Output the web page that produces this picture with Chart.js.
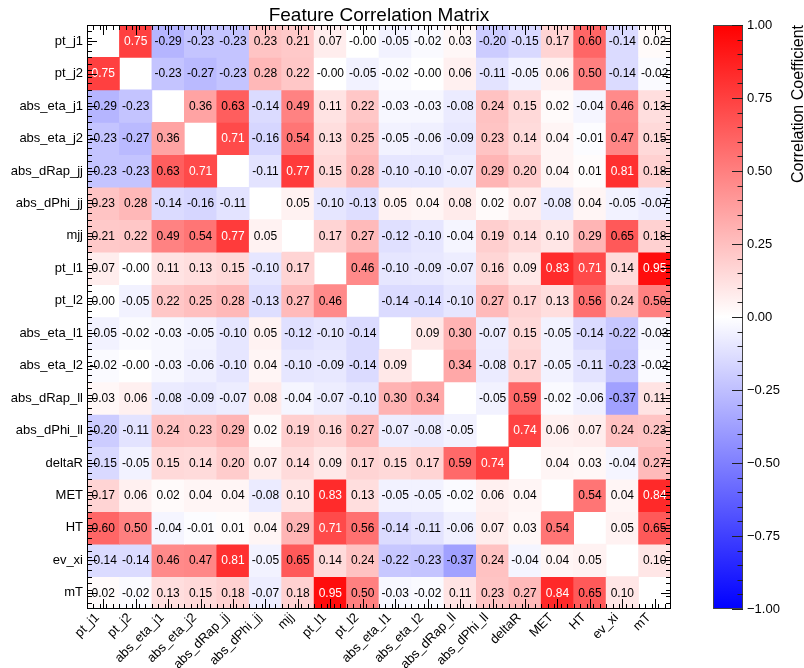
<!DOCTYPE html>
<html>
<head>
<meta charset="utf-8">
<script src="https://cdn.jsdelivr.net/npm/chart.js@4.4.1/dist/chart.umd.min.js"></script>
<style>
  html, body { margin: 0; padding: 0; background: #ffffff; }
  canvas { display: block; }
</style>
</head>
<body>
<canvas id="corr" width="804" height="668"></canvas>
<script>
// Feature names, in matrix order (rows top to bottom, columns left to right)
const features = [
  'pt_j1', 'pt_j2', 'abs_eta_j1', 'abs_eta_j2', 'abs_dRap_jj', 'abs_dPhi_jj',
  'mjj', 'pt_l1', 'pt_l2', 'abs_eta_l1', 'abs_eta_l2', 'abs_dRap_ll',
  'abs_dPhi_ll', 'deltaR', 'MET', 'HT', 'ev_xi', 'mT'
];

// Correlation coefficients, one row per feature (diagonal left empty)
const rowPtJ1      = [null, 0.75, -0.29, -0.23, -0.23, 0.23, 0.21, 0.07, -0.00, -0.05, -0.02, 0.03, -0.20, -0.15, 0.17, 0.60, -0.14, 0.02];
const rowPtJ2      = [0.75, null, -0.23, -0.27, -0.23, 0.28, 0.22, -0.00, -0.05, -0.02, -0.00, 0.06, -0.11, -0.05, 0.06, 0.50, -0.14, -0.02];
const rowAbsEtaJ1  = [-0.29, -0.23, null, 0.36, 0.63, -0.14, 0.49, 0.11, 0.22, -0.03, -0.03, -0.08, 0.24, 0.15, 0.02, -0.04, 0.46, 0.13];
const rowAbsEtaJ2  = [-0.23, -0.27, 0.36, null, 0.71, -0.16, 0.54, 0.13, 0.25, -0.05, -0.06, -0.09, 0.23, 0.14, 0.04, -0.01, 0.47, 0.15];
const rowAbsDRapJJ = [-0.23, -0.23, 0.63, 0.71, null, -0.11, 0.77, 0.15, 0.28, -0.10, -0.10, -0.07, 0.29, 0.20, 0.04, 0.01, 0.81, 0.18];
const rowAbsDPhiJJ = [0.23, 0.28, -0.14, -0.16, -0.11, null, 0.05, -0.10, -0.13, 0.05, 0.04, 0.08, 0.02, 0.07, -0.08, 0.04, -0.05, -0.07];
const rowMjj       = [0.21, 0.22, 0.49, 0.54, 0.77, 0.05, null, 0.17, 0.27, -0.12, -0.10, -0.04, 0.19, 0.14, 0.10, 0.29, 0.65, 0.18];
const rowPtL1      = [0.07, -0.00, 0.11, 0.13, 0.15, -0.10, 0.17, null, 0.46, -0.10, -0.09, -0.07, 0.16, 0.09, 0.83, 0.71, 0.14, 0.95];
const rowPtL2      = [0.00, -0.05, 0.22, 0.25, 0.28, -0.13, 0.27, 0.46, null, -0.14, -0.14, -0.10, 0.27, 0.17, 0.13, 0.56, 0.24, 0.50];
const rowAbsEtaL1  = [-0.05, -0.02, -0.03, -0.05, -0.10, 0.05, -0.12, -0.10, -0.14, null, 0.09, 0.30, -0.07, 0.15, -0.05, -0.14, -0.22, -0.03];
const rowAbsEtaL2  = [-0.02, -0.00, -0.03, -0.06, -0.10, 0.04, -0.10, -0.09, -0.14, 0.09, null, 0.34, -0.08, 0.17, -0.05, -0.11, -0.23, -0.02];
const rowAbsDRapLL = [0.03, 0.06, -0.08, -0.09, -0.07, 0.08, -0.04, -0.07, -0.10, 0.30, 0.34, null, -0.05, 0.59, -0.02, -0.06, -0.37, 0.11];
const rowAbsDPhiLL = [-0.20, -0.11, 0.24, 0.23, 0.29, 0.02, 0.19, 0.16, 0.27, -0.07, -0.08, -0.05, null, 0.74, 0.06, 0.07, 0.24, 0.23];
const rowDeltaR    = [-0.15, -0.05, 0.15, 0.14, 0.20, 0.07, 0.14, 0.09, 0.17, 0.15, 0.17, 0.59, 0.74, null, 0.04, 0.03, -0.04, 0.27];
const rowMET       = [0.17, 0.06, 0.02, 0.04, 0.04, -0.08, 0.10, 0.83, 0.13, -0.05, -0.05, -0.02, 0.06, 0.04, null, 0.54, 0.04, 0.84];
const rowHT        = [0.60, 0.50, -0.04, -0.01, 0.01, 0.04, 0.29, 0.71, 0.56, -0.14, -0.11, -0.06, 0.07, 0.03, 0.54, null, 0.05, 0.65];
const rowEvXi      = [-0.14, -0.14, 0.46, 0.47, 0.81, -0.05, 0.65, 0.14, 0.24, -0.22, -0.23, -0.37, 0.24, -0.04, 0.04, 0.05, null, 0.10];
const rowMT        = [0.02, -0.02, 0.13, 0.15, 0.18, -0.07, 0.18, 0.95, 0.50, -0.03, -0.02, 0.11, 0.23, 0.27, 0.84, 0.65, 0.10, null];

const corrRows = [
  rowPtJ1, rowPtJ2, rowAbsEtaJ1, rowAbsEtaJ2, rowAbsDRapJJ, rowAbsDPhiJJ,
  rowMjj, rowPtL1, rowPtL2, rowAbsEtaL1, rowAbsEtaL2, rowAbsDRapLL,
  rowAbsDPhiLL, rowDeltaR, rowMET, rowHT, rowEvXi, rowMT
];

// Colour-scale tick labels
const colorbarTicks = [-1, -0.75, -0.5, -0.25, 0, 0.25, 0.5, 0.75, 1];

const chartTitle = 'Feature Correlation Matrix';
const colorbarTitle = 'Correlation Coefficient';

const FONT = '"Liberation Sans", Arial, Helvetica, sans-serif';

// Diverging blue - white - red palette over [-1, 1]
function cellColor(v) {
  if (v === null || v === undefined || isNaN(v)) return '#ffffff';
  const t = Math.max(-1, Math.min(1, v));
  if (t >= 0) {
    const c = Math.round(255 * (1 - t));
    return `rgb(255,${c},${c})`;
  }
  const c = Math.round(255 * (1 + t));
  return `rgb(${c},${c},255)`;
}

// Cell text keeps the sign of a negative zero ("-0.00")
function fmtCell(v) {
  const neg = v < 0 || Object.is(v, -0);
  return (neg ? '-' : '') + Math.abs(v).toFixed(2);
}

function fmtAxis(v) {
  return (v < 0 ? '\u2212' : '') + Math.abs(v).toFixed(2);
}

// One floating-bar dataset per matrix row; each bar spans one row band
const datasets = corrRows.map((row, r) => ({
  label: features[r],
  corr: row,
  data: row.map(v => (v === null ? null : [r - 0.5, r + 0.5])),
  backgroundColor: ctx => (ctx.dataIndex === undefined ? '#ffffff' : cellColor(ctx.dataset.corr[ctx.dataIndex])),
  borderWidth: 0,
  grouped: false,
  barPercentage: 1,
  categoryPercentage: 1
}));

const cellLabels = {
  id: 'cellLabels',
  afterDatasetsDraw(chart) {
    const ctx = chart.ctx;
    ctx.save();
    ctx.font = `12px ${FONT}`;
    ctx.textAlign = 'center';
    ctx.textBaseline = 'middle';
    chart.data.datasets.forEach((ds, di) => {
      chart.getDatasetMeta(di).data.forEach((bar, i) => {
        const v = ds.corr[i];
        if (v === null || v === undefined) return;
        const p = bar.getCenterPoint();
        ctx.fillStyle = Math.abs(v) > 0.7 ? '#ffffff' : '#000000';
        ctx.fillText(fmtCell(v), p.x, p.y + 0.5);
      });
    });
    ctx.restore();
  }
};

const frameAndColorbar = {
  id: 'frameAndColorbar',
  afterDraw(chart) {
    const ctx = chart.ctx;
    const { left, right, top, bottom } = chart.chartArea;
    const xs = chart.scales.x, ys = chart.scales.y, cb = chart.scales.cb;
    const n = features.length;

    ctx.save();

    // Title
    ctx.fillStyle = '#000';
    ctx.font = `19px ${FONT}`;
    ctx.textAlign = 'center';
    ctx.textBaseline = 'alphabetic';
    ctx.fillText(chartTitle, (left + right) / 2, 20.5);

    // Frame
    ctx.strokeStyle = '#000';
    ctx.lineWidth = 1;
    ctx.strokeRect(left + 0.5, top + 0.5, right - left - 1, bottom - top - 1);

    // Inward tick marks on all four sides
    ctx.beginPath();
    for (let k = 1; k < n * 5; k++) {
      const v = -0.5 + k * 0.2;
      const major = Math.abs(v - Math.round(v)) < 1e-6;
      const len = major ? 10 : 5;
      const px = Math.round(xs.getPixelForValue(v)) + 0.5;
      ctx.moveTo(px, bottom); ctx.lineTo(px, bottom - len);
      ctx.moveTo(px, top); ctx.lineTo(px, top + len);
      const py = Math.round(ys.getPixelForValue(v)) + 0.5;
      ctx.moveTo(left, py); ctx.lineTo(left + len, py);
      ctx.moveTo(right, py); ctx.lineTo(right - len, py);
    }
    for (let i = 0; i < n; i++) {
      const px = Math.round(xs.getPixelForValue(i)) + 0.5;
      ctx.moveTo(px, bottom); ctx.lineTo(px, bottom - 10);
      ctx.moveTo(px, top); ctx.lineTo(px, top + 10);
      const py = Math.round(ys.getPixelForValue(i)) + 0.5;
      ctx.moveTo(left, py); ctx.lineTo(left + 10, py);
      ctx.moveTo(right, py); ctx.lineTo(right - 10, py);
    }
    ctx.stroke();

    // Colour bar
    const yTop = cb.getPixelForValue(1);
    const yBot = cb.getPixelForValue(-1);
    const x0 = right + 42, x1 = right + 72;
    const g = ctx.createLinearGradient(0, yTop, 0, yBot);
    g.addColorStop(0, cellColor(1));
    g.addColorStop(0.5, cellColor(0));
    g.addColorStop(1, cellColor(-1));
    ctx.fillStyle = g;
    ctx.fillRect(x0, yTop, x1 - x0, yBot - yTop);
    ctx.strokeStyle = '#444';
    ctx.strokeRect(x0 + 0.5, yTop + 0.5, x1 - x0 - 1, yBot - yTop - 1);

    ctx.strokeStyle = '#222';
    ctx.beginPath();
    for (let k = 0; k <= 40; k++) {
      const v = -1 + k * 0.05;
      const len = k % 5 === 0 ? 11 : 5.5;
      const py = Math.round(cb.getPixelForValue(v)) + 0.5;
      ctx.moveTo(x1, py); ctx.lineTo(x1 - len, py);
    }
    ctx.stroke();

    // Colour bar title, reading upward, aligned to the top end
    ctx.fillStyle = '#000';
    ctx.font = `16px ${FONT}`;
    ctx.translate(802.5, yTop);
    ctx.rotate(-Math.PI / 2);
    ctx.textAlign = 'right';
    ctx.textBaseline = 'alphabetic';
    ctx.fillText(colorbarTitle, 0, 0);

    ctx.restore();
  }
};

new Chart(document.getElementById('corr'), {
  type: 'bar',
  data: { labels: features, datasets },
  options: {
    responsive: false,
    devicePixelRatio: 1,
    animation: false,
    layout: { padding: { top: 25, left: 0, right: 0, bottom: 0 } },
    plugins: {
      legend: { display: false },
      tooltip: { enabled: false },
      title: { display: false }
    },
    scales: {
      x: {
        type: 'category',
        afterFit: s => { s.height = 59; },
        ticks: {
          autoSkip: false, minRotation: 45, maxRotation: 45, padding: 1,
          labelOffset: -6,
          color: '#000', font: { size: 13, family: FONT }
        },
        grid: { display: false, drawTicks: false },
        border: { display: false }
      },
      y: {
        type: 'linear',
        reverse: true,
        min: -0.5,
        max: 17.5,
        afterBuildTicks: s => { s.ticks = features.map((_, i) => ({ value: i })); },
        afterFit: s => { s.width = 87; },
        ticks: {
          autoSkip: false, padding: 4, color: '#000',
          font: { size: 13, family: FONT },
          callback: v => features[v]
        },
        grid: { display: false, drawTicks: false },
        border: { display: false }
      },
      cb: {
        type: 'linear',
        axis: 'y',
        position: 'right',
        min: -1,
        max: 1,
        afterBuildTicks: s => { s.ticks = colorbarTicks.map(v => ({ value: v })); },
        afterFit: s => { s.width = 133; },
        ticks: {
          autoSkip: false, padding: 4, color: '#000',
          font: { size: 13, family: FONT },
          callback: v => fmtAxis(v)
        },
        // label offset from the plot edge, leaving room for the colour bar
        grid: { display: false, drawTicks: true, tickLength: 72 },
        border: { display: false }
      }
    }
  },
  plugins: [cellLabels, frameAndColorbar]
});
</script>
</body>
</html>
